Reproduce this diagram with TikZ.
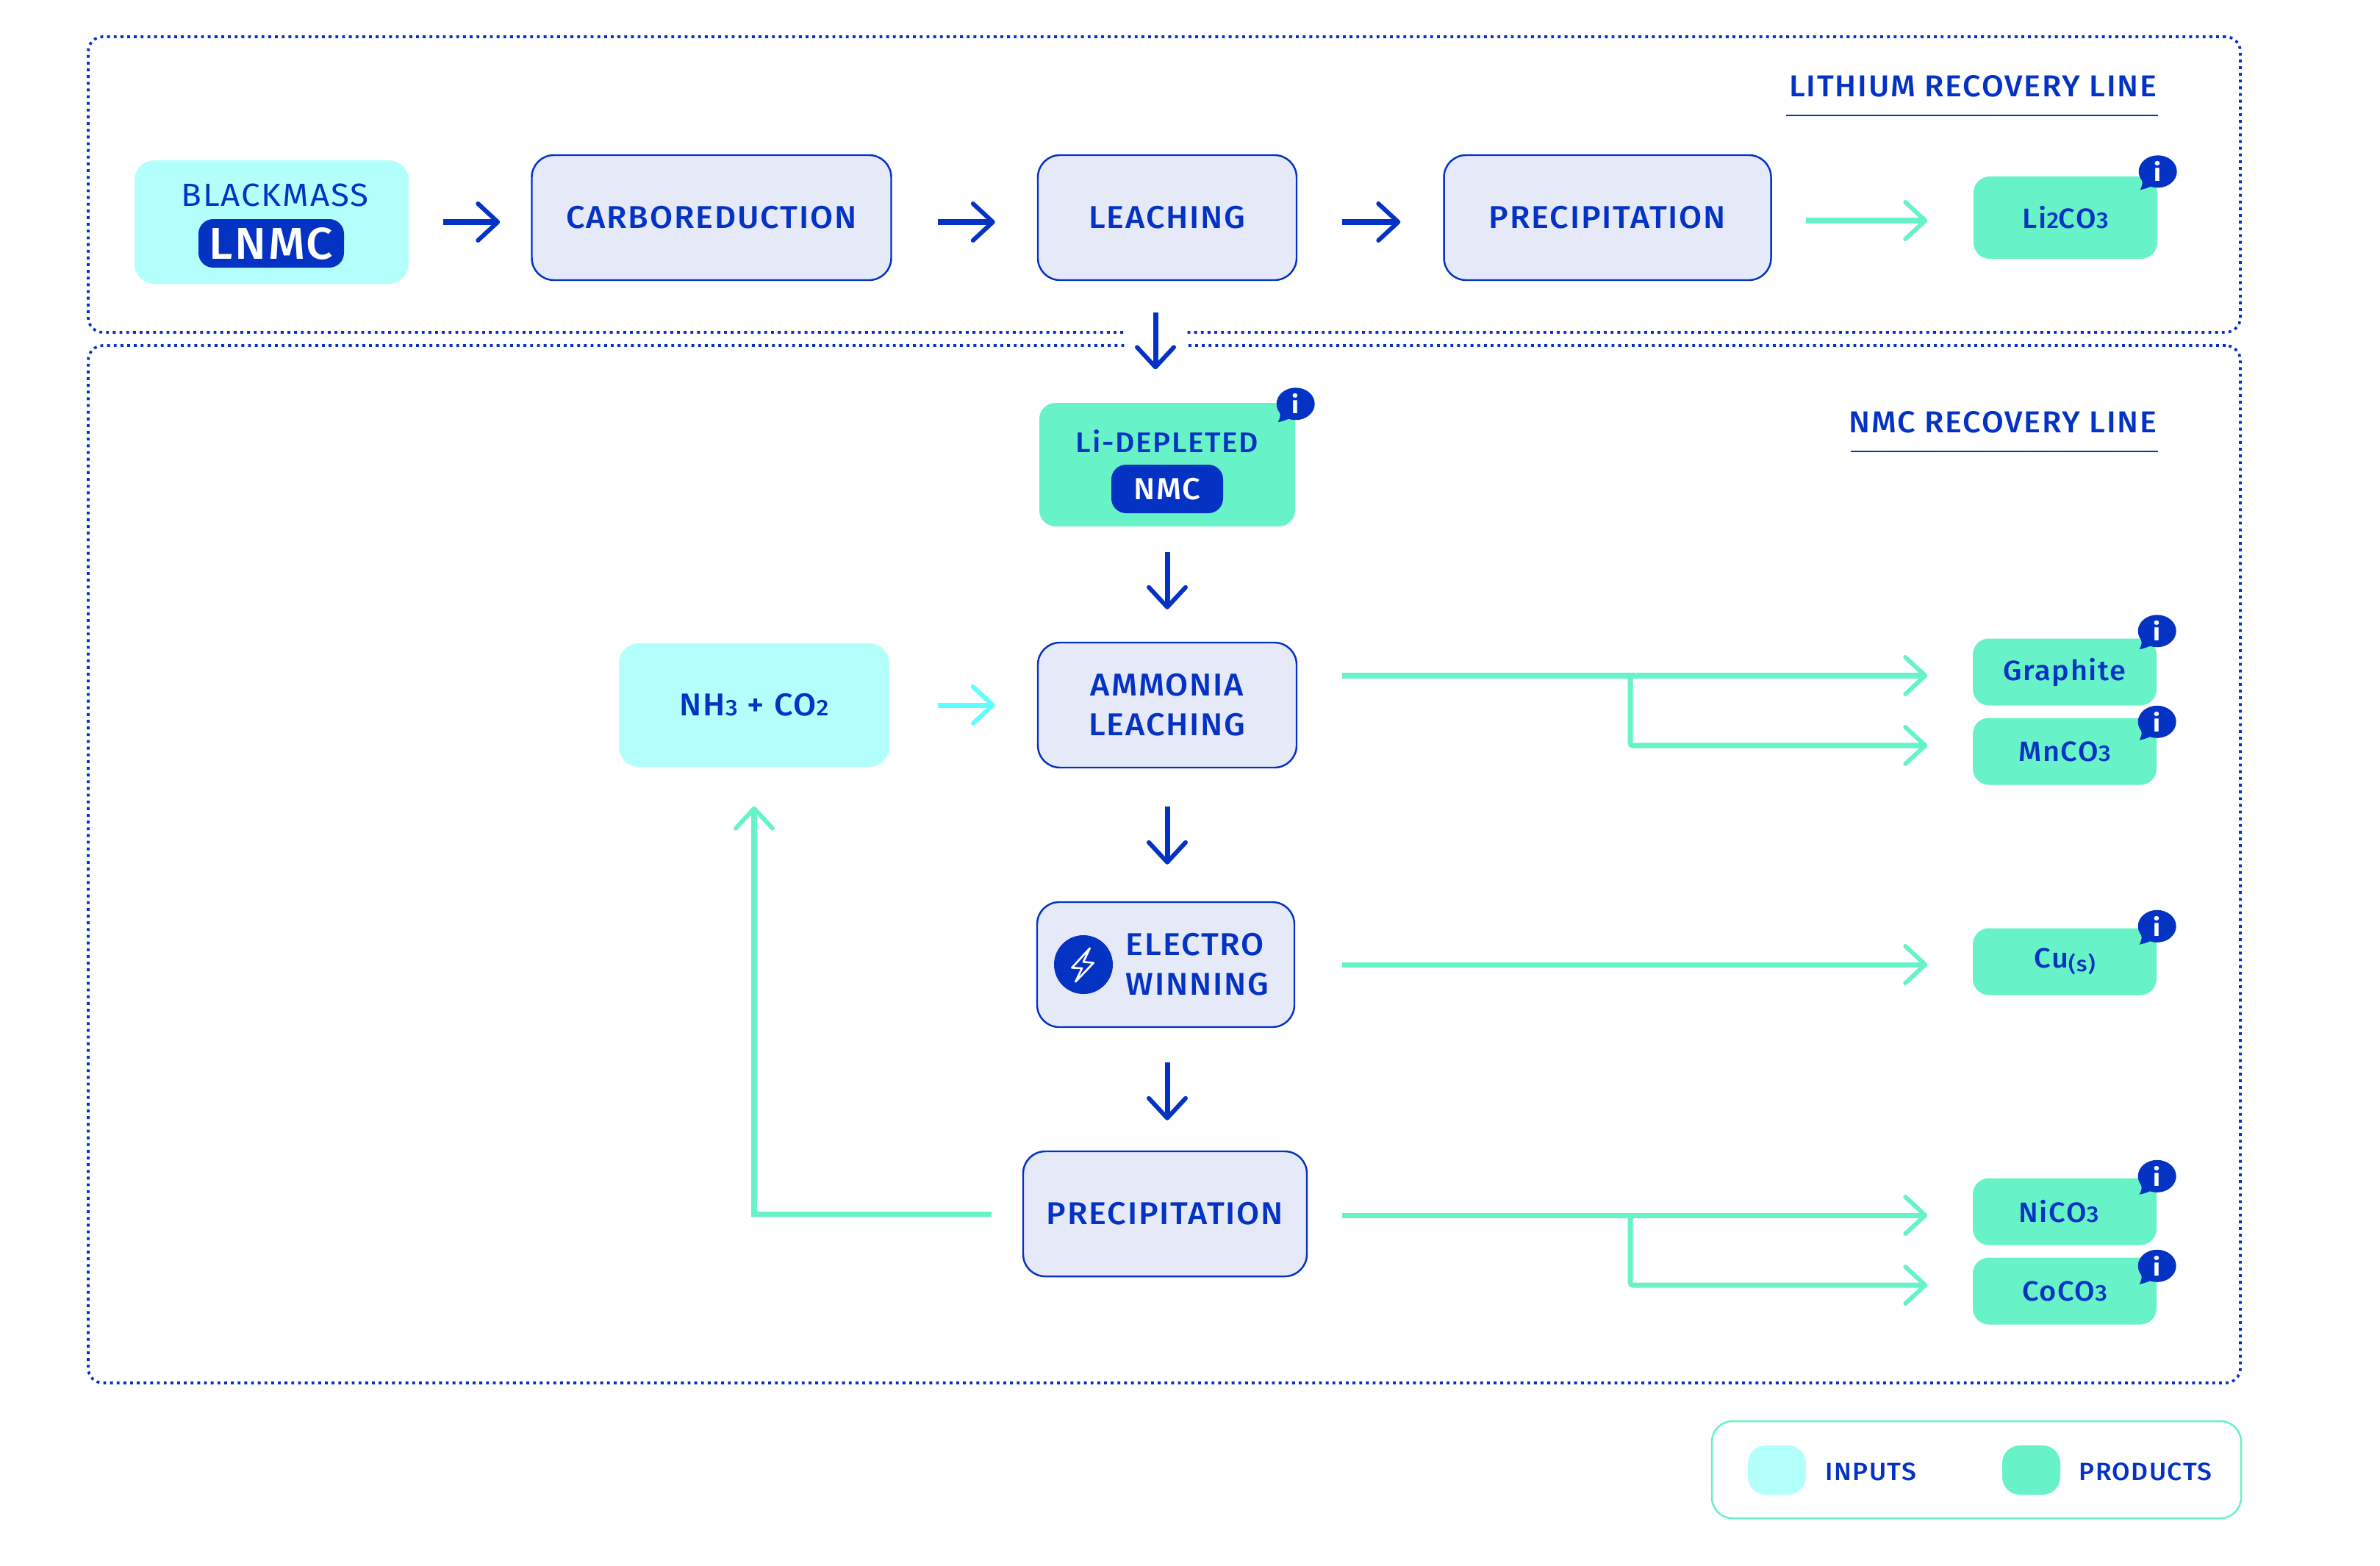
\documentclass[tikz,border=0pt]{standalone}
\usepackage{fontspec}
\setmainfont{Fira Sans}[FakeStretch=1.05,LetterSpace=4.3]
\newfontfamily\medfont{Fira Sans Medium}[FakeStretch=1.05,LetterSpace=4.3]
\usetikzlibrary{arrows.meta}
\usetikzlibrary{positioning}
\usetikzlibrary{shapes.geometric}

\definecolor{inkblue}{HTML}{0433C4}
\definecolor{palepanel}{HTML}{E6EAF8}
\definecolor{mintfill}{HTML}{67F2C7}
\definecolor{cyanfill}{HTML}{B3FFFB}
\definecolor{cyanline}{HTML}{5FFFFB}

\newcommand{\smalldigit}[1]{{\fontsize{8.8}{8}\selectfont #1}}
\newcommand{\infotag}[2]{%
 \node[infobubble] (#1 info) at ([yshift=#2]#1.north east) {i};
 \begin{scope}[shift={(#1 info.center)}]
  \fill[inkblue] (-.24,-.06) .. controls (-.2,-.16) .. (-.24,-.25) .. controls (-.16,-.23) .. (-.06,-.19) -- cycle;
 \end{scope}}

\tikzset{
 every node/.style={text=inkblue,inner sep=0pt,align=center},
 lineframe/.style={draw=inkblue,line width=1.05pt,rounded corners=.2cm,dash pattern=on 1.1pt off 1.5pt,minimum width=29.28cm},
 process/.style={draw=inkblue,line width=.7pt,fill=palepanel,rounded corners=.3cm,minimum height=1.7cm,font=\medfont\fontsize{12.2}{15.4}\selectfont},
 inputbox/.style={fill=cyanfill,rounded corners=.27cm,font=\medfont\fontsize{12.2}{15.4}\selectfont},
 product/.style={fill=mintfill,rounded corners=.22cm,minimum width=2.5cm,minimum height=.91cm,font=\medfont\fontsize{10.8}{13}\selectfont},
 pill/.style={fill=inkblue,rounded corners=.2cm,text=white},
 infobubble/.style={ellipse,fill=inkblue,text=white,minimum width=.52cm,minimum height=.44cm,font=\bfseries\fontsize{9.5}{10}\selectfont},
 linetitle/.style={anchor=south east,text depth=0pt,font=\medfont\fontsize{11.7}{15}\selectfont},
 titlerule/.style={draw=inkblue,line width=.7pt},
 flow/.style={line width=2pt,-{Straight Barb[length=.27cm,width=.5cm,line width=1.7pt,round]}},
 blueflow/.style={flow,draw=inkblue},
 mintflow/.style={flow,draw=mintfill},
 cyanflow/.style={flow,draw=cyanline},
 keytext/.style={anchor=west,font=\medfont\fontsize{9.6}{12}\selectfont}
}

\begin{document}
\begin{tikzpicture}
 \useasboundingbox (0,0) rectangle (32.38,-21.30);

 % Dotted frames of the two recovery lines
 \node[lineframe,minimum height=4.02cm] (lithiumline) at (15.84,-2.51) {};
 \node[lineframe,minimum height=14.11cm] (nmcline) at (15.84,-11.755) {};
 \fill[white] (15.31,-4.4) rectangle (16.13,-4.82);

 \node[linetitle] (lithiumtitle) at (29.35,-1.32) {LITHIUM RECOVERY LINE};
 \node[linetitle] (nmctitle) at (29.35,-5.89) {NMC RECOVERY LINE};
 \draw[titlerule] ([xshift=-.03cm,yshift=-.25cm]lithiumtitle.south west) -- ([xshift=.01cm,yshift=-.25cm]lithiumtitle.south east);
 \draw[titlerule] ([xshift=.03cm,yshift=-.25cm]nmctitle.south west) -- ([xshift=.01cm,yshift=-.25cm]nmctitle.south east);

 % Lithium line, left to right
 \node[inputbox,minimum width=3.73cm,minimum height=1.68cm] (blackmass) at (3.695,-3.02) {};
 \node[font=\fontsize{12.4}{15}\selectfont] (blackmasslabel) at (3.74,-2.65) {BLACKMASS};
 \node[pill,minimum width=1.98cm,minimum height=.66cm,font=\medfont\fontsize{17.3}{20}\selectfont] (lnmc) at (3.69,-3.31) {LNMC};
 \node[process,minimum width=4.89cm,right of=blackmass,node distance=5.985cm,yshift=.06cm] (carbo) {CARBOREDUCTION};
 \node[process,minimum width=3.52cm,right of=carbo,node distance=6.2cm] (leach) {LEACHING};
 \node[process,minimum width=4.45cm,right of=leach,node distance=5.99cm] (precipA) {PRECIPITATION};
 \node[product,minimum height=1.12cm,right of=precipA,node distance=6.23cm] (lico) {Li\smalldigit{2}CO\smalldigit{3}};

 % NMC line, top to bottom
 \node[product,fill=mintfill,minimum width=3.48cm,minimum height=1.68cm,below of=leach,node distance=3.36cm] (lidep) {};
 \node[font=\medfont\fontsize{11}{14}\selectfont] (lideplabel) at (15.88,-6) {Li-DEPLETED};
 \node[pill,minimum width=1.52cm,minimum height=.66cm,font=\medfont\fontsize{11.8}{14}\selectfont,text=white] (nmc) at (15.88,-6.65) {NMC};
 \node[process,minimum width=3.52cm,below of=lidep,node distance=3.27cm] (ammonia) {AMMONIA\\LEACHING};
 \node[inputbox,minimum width=3.68cm,minimum height=1.68cm,left of=ammonia,node distance=5.62cm] (nhco) {NH\smalldigit{3} + CO\smalldigit{2}};
 \node[process,minimum width=3.5cm] (electro) at (15.86,-13.12) {};
 \node[circle,fill=inkblue,minimum size=.8cm] (boltdisc) at (14.74,-13.12) {};
 \node[anchor=west,align=left,font=\medfont\fontsize{12.2}{15.4}\selectfont] (electrolabel) at (15.31,-13.12) {ELECTRO\\WINNING};
 \begin{scope}[shift={(boltdisc.center)}]
  \draw[white,line width=.75pt,line join=round] (.087,.223) -- (-.157,-.043) -- (-.02,-.05) -- (-.107,-.233) -- (.137,.023) -- (0,.037) -- cycle;
 \end{scope}
 \node[process,minimum width=3.86cm] (precipB) at (15.85,-16.51) {PRECIPITATION};

 % Products on the right
 \node[product] (graphite) at (28.09,-9.14) {Graphite};
 \node[product] (mnco) at (28.09,-10.22) {MnCO\smalldigit{3}};
 \node[product] (cu) at (28.09,-13.08) {Cu\raisebox{-.25ex}{\fontsize{8.2}{8}\selectfont (s)}};
 \node[product] (nico) at (28.09,-16.48) {NiCO\smalldigit{3}\kern.16cm};
 \node[product] (coco) at (28.09,-17.56) {CoCO\smalldigit{3}};

 \infotag{lico}{.06cm}
 \infotag{lidep}{-.02cm}
 \infotag{graphite}{.095cm}
 \infotag{mnco}{-.06cm}
 \infotag{cu}{.02cm}
 \infotag{nico}{.02cm}
 \infotag{coco}{-.12cm}

 % Blue process arrows
 \draw[blueflow,shorten <=.46cm,shorten >=.42cm] (blackmass.east) -- (blackmass.east -| carbo.west);
 \draw[blueflow,shorten <=.62cm,shorten >=.57cm] ([yshift=-.06cm]carbo.east) -- ([yshift=-.06cm]leach.west);
 \draw[blueflow,shorten <=.61cm,shorten >=.58cm] ([yshift=-.06cm]leach.east) -- ([yshift=-.06cm]precipA.west);
 \draw[blueflow,shorten <=.43cm,shorten >=.45cm] ([xshift=-.16cm]leach.south) -- ([xshift=-.16cm]leach.south |- lidep.north);
 \draw[blueflow,shorten <=.34cm,shorten >=.44cm] (lidep.south) -- (ammonia.north);
 \draw[blueflow,shorten <=.52cm,shorten >=.5cm] (ammonia.south) -- (ammonia.south |- electro.north);
 \draw[blueflow,shorten <=.47cm,shorten >=.41cm] (ammonia.south |- electro.south) -- (ammonia.south |- precipB.north);

 % Product arrows, split ones start from a named coordinate
 \coordinate (splitA) at (22.18,-9.19);
 \coordinate (splitB) at (22.18,-16.53);
 \draw[mintflow,shorten <=.46cm,shorten >=.62cm] ([yshift=-.04cm]precipA.east) -- ([yshift=-.04cm]precipA.east -| lico.west);
 \draw[mintflow,shorten <=.61cm,shorten >=.61cm] (ammonia.east |- splitA) -- (splitA -| graphite.west);
 \draw[mintflow,shorten >=.61cm,rounded corners=1pt] (splitA) |- ([yshift=.08cm]mnco.west);
 \draw[mintflow,shorten <=.64cm,shorten >=.61cm] (electro.east) -- (electro.east -| cu.west);
 \draw[mintflow,shorten <=.47cm,shorten >=.61cm] (precipB.east |- splitB) -- (splitB -| nico.west);
 \draw[mintflow,shorten >=.61cm,rounded corners=1pt] (splitB) |- ([yshift=.08cm]coco.west);
 \draw[mintflow,shorten <=.42cm,shorten >=.53cm] (precipB.west) -| (nhco.south);
 \draw[cyanflow,shorten <=.65cm,shorten >=.57cm] (nhco.east) -- (ammonia.west);

 % Key
 \node[draw=mintfill,line width=.7pt,rounded corners=.28cm,minimum width=7.2cm,minimum height=1.32cm] (keybox) at (26.89,-19.99) {};
 \node[fill=cyanfill,rounded corners=.24cm,minimum width=.79cm,minimum height=.67cm] (keyinput) at (24.175,-19.995) {};
 \node[fill=mintfill,rounded corners=.24cm,minimum width=.79cm,minimum height=.67cm] (keyproduct) at (27.635,-19.995) {};
 \node[keytext] (keyinputlabel) at (24.83,-20.02) {INPUTS};
 \node[keytext] (keyproductlabel) at (28.28,-20.02) {PRODUCTS};
\end{tikzpicture}
\end{document}
